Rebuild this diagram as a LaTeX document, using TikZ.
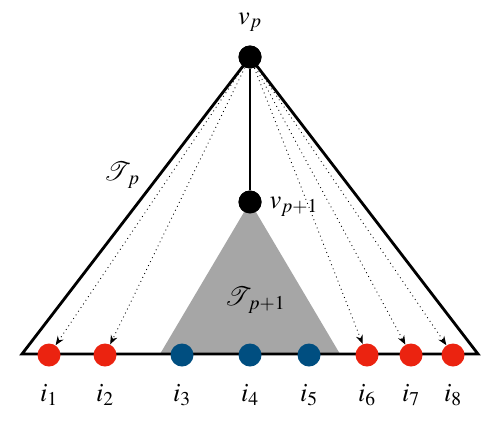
\documentclass[tikz,border=0pt]{standalone}
\usepackage{mathptmx}
\usepackage{tikz}
\usetikzlibrary{arrows.meta,positioning}
\definecolor{vermelho}{HTML}{EB2310}
\definecolor{azul}{HTML}{004E80}
\definecolor{cinza}{HTML}{A6A6A6}

\begin{document}
\begin{tikzpicture}[x=0.2mm, y=-0.2mm, font=\fontsize{15}{17}\selectfont,
  vx/.style={circle, fill=black, inner sep=0pt, minimum size=4.6mm},
  fx/.style={circle, inner sep=0pt, minimum size=4.6mm},
  seta/.style={dotted, line width=0.5pt, -{Stealth[length=1.8mm, width=1.4mm]}}]
  \useasboundingbox (0,0) rectangle (499,422);
  % cantos da arvore
  \coordinate (bl) at (22,354);
  \coordinate (br) at (478,354);
  \node[vx] (vp) at (250,57) {};
  \node[vx] (vq) at (250,202) {};
  \fill[cinza] (vq.center) -- (160,354) -- (340,354) -- cycle;
  \draw[line width=1.6pt, line join=miter] (bl) -- (vp.center) -- (br) -- cycle;
  \draw[line width=1.6pt] (vp) -- (vq);
  \node[vx] at (vp) {};
  \node[vx] at (vq) {};
  % folhas
  \foreach \x/\n/\c in {49/1/vermelho, 105/2/vermelho, 182/3/azul, 250/4/azul,
                        309/5/azul, 367/6/vermelho, 411/7/vermelho, 453/8/vermelho} {
    \node[fx, fill=\c] (f\n) at (\x,355) {};
    \node[below=2.2mm of f\n] {$i_{\n}$};
  }
  \foreach \n in {1,2,6,7,8} {
    \draw[seta] (vp) -- (f\n);
  }
  \node[above=1.4mm of vp] {$v_p$};
  \node[right=0.3mm of vq, yshift=-1mm] {$v_{p+1}$};
  \node at (122,175) {$\mathcal{T}_{\;p}$};
  \node at (255,300) {$\mathcal{T}_{\;p+1}$};
\end{tikzpicture}
\end{document}
